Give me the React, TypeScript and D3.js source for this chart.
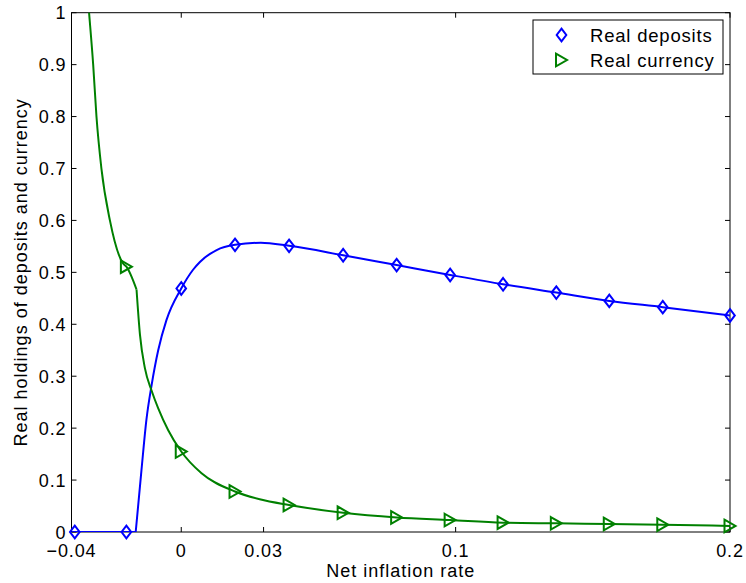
import React from 'react';
import * as d3 from 'd3';

// Axis ticks
const xTickValues = [-0.04, 0, 0.03, 0.1, 0.2];
const xTickLabels = ['\u22120.04', '0', '0.03', '0.1', '0.2'];
const yTickValues = [0, 0.1, 0.2, 0.3, 0.4, 0.5, 0.6, 0.7, 0.8, 0.9, 1];
const yTickLabels = ['0', '0.1', '0.2', '0.3', '0.4', '0.5', '0.6', '0.7', '0.8', '0.9', '1'];

// Marker positions (inflation rate) shared by both series
const markerX = [-0.0388, -0.02, 0, 0.0196, 0.0393, 0.059, 0.0785, 0.098, 0.1173, 0.1367, 0.156, 0.1755, 0.2];
const depositMarkers = [0, 0, 0.469, 0.553, 0.551, 0.533, 0.514, 0.495, 0.477, 0.461, 0.445, 0.433, 0.417];
const currencyMarkers = [1.35, 0.511, 0.155, 0.078, 0.052, 0.037, 0.028, 0.023, 0.018, 0.0167, 0.0154, 0.014, 0.0116];

// Real deposits: flat at zero, then a smooth rise past the threshold
const depositsFlatX = [-0.04, -0.0166];
const depositsFlatY = [0, 0];
const depositsCurveX = [-0.0166, -0.0145, -0.0127, -0.0108, -0.0084, -0.0054, 0, 0.0043, 0.0068, 0.0129, 0.0196, 0.029, 0.0393, 0.059, 0.0785, 0.098, 0.1173, 0.1367, 0.156, 0.1755, 0.2];
const depositsCurveY = [0, 0.119, 0.216, 0.283, 0.35, 0.408, 0.469, 0.505, 0.52, 0.543, 0.553, 0.557, 0.551, 0.533, 0.514, 0.495, 0.477, 0.461, 0.445, 0.433, 0.417];

// Real currency: steep branch before the threshold, decaying branch after it
const currencyUpperX = [-0.0388, -0.0355, -0.0336, -0.0321, -0.0309, -0.0291, -0.026, -0.0212, -0.02, -0.0163];
const currencyUpperY = [1.35, 1.12, 1.0, 0.9, 0.8, 0.7, 0.6, 0.517, 0.511, 0.467];
const currencyLowerX = [-0.0163, -0.01505, -0.01323, -0.01079, -0.00839, -0.00475, 0, 0.0074, 0.0196, 0.0286, 0.0393, 0.059, 0.0785, 0.098, 0.1173, 0.1367, 0.156, 0.1755, 0.2];
const currencyLowerY = [0.467, 0.38, 0.315, 0.272, 0.238, 0.196, 0.155, 0.113, 0.078, 0.063, 0.052, 0.037, 0.028, 0.023, 0.018, 0.0167, 0.0154, 0.014, 0.0116];

const legendLabels = ['Real deposits', 'Real currency'];

const W = 746;
const H = 583;
const left = 71.5;
const right = 730;
const top = 12.7;
const bottom = 532;

const BLUE = '#0000ff';
const GREEN = '#008000';
const FONT = '"Liberation Sans", Arial, Helvetica, sans-serif';

const x = d3.scaleLinear().domain([-0.04, 0.2]).range([left, right]);
const y = d3.scaleLinear().domain([0, 1]).range([bottom, top]);

const line = d3
  .line<[number, number]>()
  .x((d) => x(d[0]))
  .y((d) => y(d[1]))
  .curve(d3.curveMonotoneX);

const zip = (xs: number[], ys: number[]): [number, number][] => xs.map((v, i) => [v, ys[i]]);

// markers are only drawn for values inside the y range, but are not cut at the frame
const inRange = (v: number) => v >= 0 && v <= 1;

function Diamond({ cx, cy }: { cx: number; cy: number }) {
  const hw = 4.8;
  const hh = 6.3;
  return (
    <path
      d={`M${cx},${cy - hh}L${cx + hw},${cy}L${cx},${cy + hh}L${cx - hw},${cy}Z`}
      fill="none"
      stroke={BLUE}
      strokeWidth={2}
    />
  );
}

function TriRight({ cx, cy }: { cx: number; cy: number }) {
  const hw = 5.5;
  const hh = 6.3;
  return (
    <path
      d={`M${cx - hw},${cy - hh}L${cx + hw},${cy}L${cx - hw},${cy + hh}Z`}
      fill="none"
      stroke={GREEN}
      strokeWidth={2}
    />
  );
}

export default function App() {
  const tickLen = 5;
  return (
    <svg
      width={W}
      height={H}
      style={{ position: 'absolute', left: 0, top: 0, background: '#fff' }}
      fontFamily={FONT}
    >
      <defs>
        <clipPath id="plot-area">
          <rect x={left} y={top} width={right - left} height={bottom - top} />
        </clipPath>
      </defs>
      <rect x={0} y={0} width={W} height={H} fill="#fff" />

      {/* axes box and ticks */}
      <g stroke="#000" strokeWidth={1} fill="none">
        <rect x={left} y={top} width={right - left} height={bottom - top} />
        {xTickValues.map((v) => (
          <g key={`xt${v}`}>
            <line x1={x(v)} x2={x(v)} y1={bottom} y2={bottom - tickLen} />
            <line x1={x(v)} x2={x(v)} y1={top} y2={top + tickLen} />
          </g>
        ))}
        {yTickValues.map((v) => (
          <g key={`yt${v}`}>
            <line x1={left} x2={left + tickLen} y1={y(v)} y2={y(v)} />
            <line x1={right} x2={right - tickLen} y1={y(v)} y2={y(v)} />
          </g>
        ))}
      </g>

      {/* series */}
      <g clipPath="url(#plot-area)">
        <path d={line(zip(depositsFlatX, depositsFlatY)) || ''} fill="none" stroke={BLUE} strokeWidth={2} />
        <path d={line(zip(depositsCurveX, depositsCurveY)) || ''} fill="none" stroke={BLUE} strokeWidth={2} />
        <path d={line(zip(currencyUpperX, currencyUpperY)) || ''} fill="none" stroke={GREEN} strokeWidth={2} />
        <path d={line(zip(currencyLowerX, currencyLowerY)) || ''} fill="none" stroke={GREEN} strokeWidth={2} />
      </g>
      <g>
        {markerX.map((v, i) =>
          inRange(depositMarkers[i]) ? <Diamond key={`d${i}`} cx={x(v)} cy={y(depositMarkers[i])} /> : null
        )}
        {markerX.map((v, i) =>
          inRange(currencyMarkers[i]) ? <TriRight key={`t${i}`} cx={x(v)} cy={y(currencyMarkers[i])} /> : null
        )}
      </g>

      {/* tick labels */}
      <g fontSize={18} fill="#000" letterSpacing={0.9}>
        {xTickValues.map((v, i) => (
          <text key={`xl${v}`} x={x(v)} y={557} textAnchor="middle">
            {xTickLabels[i]}
          </text>
        ))}
        {yTickValues.map((v, i) => (
          <text key={`yl${v}`} x={66.5} y={y(v) + 6.5} textAnchor="end">
            {yTickLabels[i]}
          </text>
        ))}
      </g>

      {/* axis labels */}
      <text x={(left + right) / 2} y={577} textAnchor="middle" fontSize={18} letterSpacing={1}>
        Net inflation rate
      </text>
      <text
        transform={`translate(27,${(top + bottom) / 2}) rotate(-90)`}
        textAnchor="middle"
        fontSize={18}
        letterSpacing={1}
      >
        Real holdings of deposits and currency
      </text>

      {/* legend */}
      <g>
        <rect x={533} y={20} width={190} height={54} fill="#fff" stroke="#000" strokeWidth={1} />
        <Diamond cx={561.5} cy={35} />
        <TriRight cx={561.5} cy={60} />
        <text x={590} y={41.5} fontSize={18.5} letterSpacing={0.8}>
          {legendLabels[0]}
        </text>
        <text x={590} y={66.5} fontSize={18.5} letterSpacing={0.8}>
          {legendLabels[1]}
        </text>
      </g>
    </svg>
  );
}
